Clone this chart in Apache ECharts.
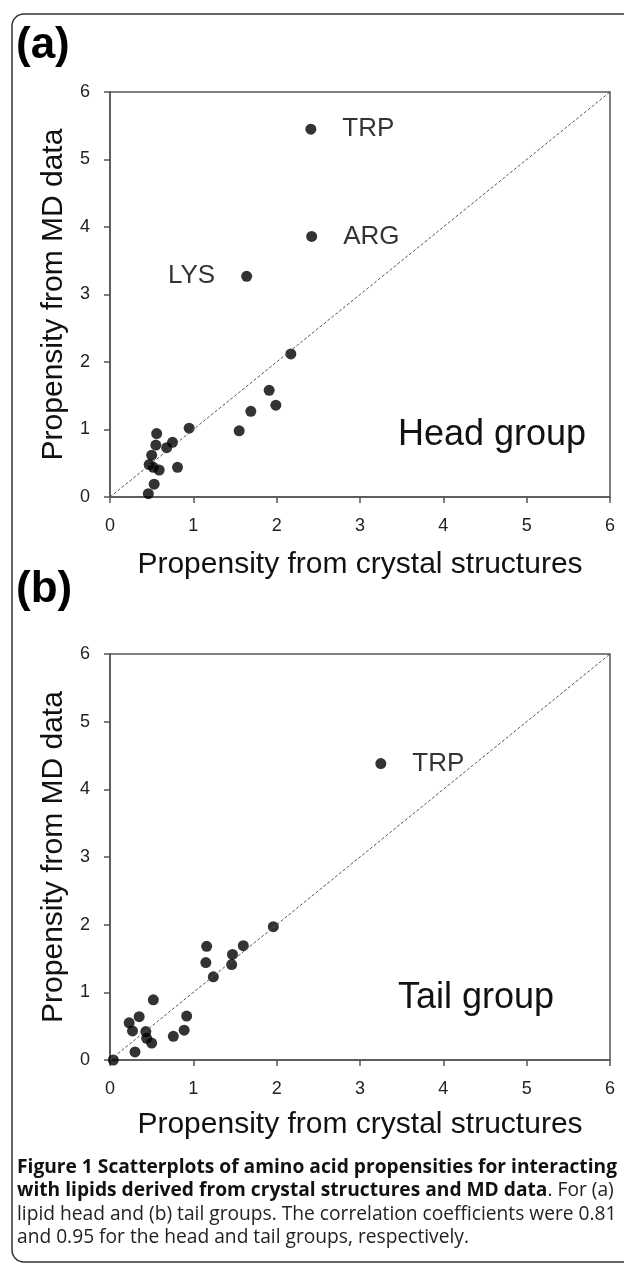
<!DOCTYPE html>
<html>
<head>
<meta charset="utf-8">
<script src="https://cdn.jsdelivr.net/npm/echarts@6/dist/echarts.min.js"></script>
<style>
html,body{margin:0;padding:0;background:#fff;}
#c{width:624px;height:1266px;}
</style>
</head>
<body>
<div id="c"></div>
<script>
// ---- data ----
const axisTicks = [0, 1, 2, 3, 4, 5, 6];
const diagonal = [0, 6];
const headCrystal = [2.41, 2.42, 1.64, 2.17, 1.91, 1.99, 1.69, 0.95, 1.55, 0.56, 0.75, 0.55, 0.68, 0.50, 0.47, 0.52, 0.59, 0.81, 0.53, 0.46];
const headMD      = [5.45, 3.86, 3.27, 2.12, 1.58, 1.36, 1.27, 1.02, 0.98, 0.94, 0.81, 0.77, 0.73, 0.62, 0.48, 0.44, 0.40, 0.44, 0.19, 0.05];
const headNames   = ['TRP', 'ARG', 'LYS', '', '', '', '', '', '', '', '', '', '', '', '', '', '', '', '', ''];
const headLabelSide = ['right', 'right', 'left'];
const tailCrystal = [3.25, 1.96, 1.16, 1.60, 1.47, 1.15, 1.46, 1.24, 0.52, 0.35, 0.92, 0.23, 0.27, 0.43, 0.89, 0.44, 0.50, 0.76, 0.30, 0.04];
const tailMD      = [4.38, 1.97, 1.68, 1.69, 1.56, 1.44, 1.41, 1.23, 0.89, 0.64, 0.65, 0.55, 0.43, 0.42, 0.44, 0.32, 0.25, 0.35, 0.12, 0.00];
const tailNames   = ['TRP', '', '', '', '', '', '', '', '', '', '', '', '', '', '', '', '', '', '', ''];
const tailLabelSide = ['right'];
const xTitle = 'Propensity from crystal structures';
const yTitle = 'Propensity from MD data';
const panelTitles = ['(a)', '(b)'];
const groupTitles = ['Head group', 'Tail group'];

const FONT = 'Liberation Sans, Arial, Helvetica, sans-serif';

function pts(xs, ys, names, sides) {
  return xs.map((x, i) => {
    const item = { value: [x, ys[i]], name: names[i] };
    if (names[i]) {
      item.label = {
        show: true, formatter: names[i], position: sides[i] || 'right',
        distance: 26, fontSize: 26, color: '#000', fontFamily: FONT
      };
    }
    return item;
  });
}

function makeX(idx, gap) {
  return {
    gridIndex: idx, type: 'value', min: axisTicks[0], max: axisTicks[axisTicks.length - 1], interval: 1,
    name: xTitle, nameLocation: 'middle', nameGap: gap,
    nameTextStyle: { fontSize: 30, color: '#111', fontFamily: FONT },
    axisLine: { show: true, onZero: false, lineStyle: { color: '#555', width: 1.5 } },
    axisTick: { show: true, inside: false, length: 6, lineStyle: { color: '#555', width: 1.5 } },
    axisLabel: { fontSize: 18, color: '#222', margin: 20, fontFamily: FONT },
    splitLine: { show: false }
  };
}
function makeY(idx) {
  return {
    gridIndex: idx, type: 'value', min: axisTicks[0], max: axisTicks[axisTicks.length - 1], interval: 1,
    name: yTitle, nameLocation: 'middle', nameGap: 38, nameRotate: 90,
    nameTextStyle: { fontSize: 30, color: '#111', fontFamily: FONT },
    axisLine: { show: true, onZero: false, lineStyle: { color: '#555', width: 1.5 } },
    axisTick: { show: true, inside: false, length: 6, lineStyle: { color: '#555', width: 1.5 } },
    axisLabel: { fontSize: 18, color: '#222', margin: 20, fontFamily: FONT },
    splitLine: { show: false }
  };
}

const diagData = diagonal.map(v => [v, v]);

const option = {
  backgroundColor: '#fff',
  animation: false,
  grid: [
    { left: 110, top: 92, width: 500, height: 405, show: true, borderColor: '#555', borderWidth: 1.5, backgroundColor: 'transparent' },
    { left: 110, top: 654, width: 500, height: 406, show: true, borderColor: '#555', borderWidth: 1.5, backgroundColor: 'transparent' }
  ],
  xAxis: [makeX(0, 53), makeX(1, 50)],
  yAxis: [makeY(0), makeY(1)],
  series: [
    { type: 'line', xAxisIndex: 0, yAxisIndex: 0, data: diagData, symbol: 'none', silent: true,
      lineStyle: { color: '#555', width: 1, type: [3, 2] } },
    { type: 'line', xAxisIndex: 1, yAxisIndex: 1, data: diagData, symbol: 'none', silent: true,
      lineStyle: { color: '#555', width: 1, type: [3, 2] } },
    { type: 'scatter', xAxisIndex: 0, yAxisIndex: 0, symbolSize: 11,
      itemStyle: { color: '#000' }, data: pts(headCrystal, headMD, headNames, headLabelSide) },
    { type: 'scatter', xAxisIndex: 1, yAxisIndex: 1, symbolSize: 11,
      itemStyle: { color: '#000' }, data: pts(tailCrystal, tailMD, tailNames, tailLabelSide) }
  ],
  graphic: [
    { type: 'rect', shape: { x: 12, y: 14, width: 650, height: 1248, r: 12 },
      style: { fill: 'none', stroke: '#333', lineWidth: 1.5 }, silent: true },
    { type: 'text', left: 16, top: 24, style: { text: panelTitles[0], font: 'bold 44px ' + FONT, fill: '#000' } },
    { type: 'text', left: 16, top: 568, style: { text: panelTitles[1], font: 'bold 44px ' + FONT, fill: '#000' } },
    { type: 'text', left: 398, top: 417, style: { text: groupTitles[0], font: '36px ' + FONT, fill: '#111' } },
    { type: 'text', left: 398, top: 980, style: { text: groupTitles[1], font: '36px ' + FONT, fill: '#111' } },
    { type: 'text', left: 17, top: 1158,
      style: {
        text: '{b|Figure 1 Scatterplots of amino acid propensities for interacting}\n' +
              '{b|with lipids derived from crystal structures and MD data}{n|. For (a)}\n' +
              '{n|lipid head and (b) tail groups. The correlation coefficients were 0.81}\n' +
              '{n|and 0.95 for the head and tail groups, respectively.}',
        rich: {
          b: { font: 'bold 19.2px "Open Sans", sans-serif', fill: '#111', lineHeight: 23.5 },
          n: { font: '19.2px "Open Sans", sans-serif', fill: '#222', lineHeight: 23.5 }
        }
      } }
  ]
};

const chart = echarts.init(document.getElementById('c'), null, { renderer: 'canvas' });
chart.setOption(option);
</script>
</body>
</html>
